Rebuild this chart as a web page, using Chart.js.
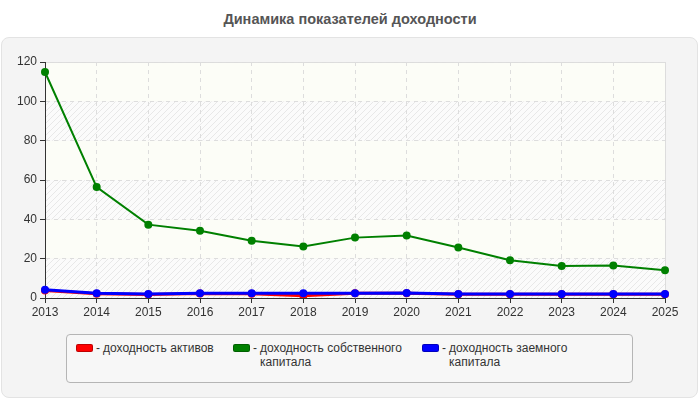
<!DOCTYPE html>
<html lang="ru">
<head>
<meta charset="utf-8">
<title>Динамика показателей доходности</title>
<script src="https://cdn.jsdelivr.net/npm/chart.js@4/dist/chart.umd.min.js"></script>
<style>
  body { margin: 0; width: 700px; height: 400px; background: #fff; position: relative; overflow: hidden;
         font-family: "Liberation Sans", Arial, sans-serif; }
  #title { position: absolute; left: 0; top: 11px; width: 700px; text-align: center;
           font-weight: bold; font-size: 14.5px; color: #555; }
  #panel { position: absolute; left: 1px; top: 37px; width: 695px; height: 359px;
           background: #f4f4f4; border: 1px solid #e3e3e3; border-radius: 8px; }
  #chart-box { position: absolute; left: 0; top: 37px; width: 700px; height: 290px; }
  #legend { position: absolute; left: 66px; top: 334px; width: 565px; height: 47px;
            border: 1px solid #b5b5b5; border-radius: 4px; background: #f7f7f7; }
  .item { position: absolute; top: 6px; display: flex; font-size: 12px; color: #333; line-height: 14px; }
  .swatch { width: 15px; height: 6px; border-radius: 2px; margin-top: 3px; border: 1px solid rgba(0,0,0,0.25); }
  .dash { margin: 0 3px 0 3px; }
</style>
</head>
<body>
<div id="title">Динамика показателей доходности</div>
<div id="panel"></div>
<div id="chart-box"><canvas id="profitChart"></canvas></div>
<div id="legend"></div>
<script>
const years = ["2013", "2014", "2015", "2016", "2017", "2018", "2019", "2020", "2021", "2022", "2023", "2024", "2025"];
const roa = [3.8, 2.1, 1.8, 2.3, 2.2, 1.2, 2.4, 2.4, 1.9, 1.9, 1.9, 1.9, 1.9];
const roe = [114.9, 56.4, 37.3, 34.2, 29.1, 26.2, 30.7, 31.8, 25.7, 19.2, 16.3, 16.5, 14.1];
const rdc = [4.2, 2.4, 2.0, 2.4, 2.4, 2.4, 2.4, 2.5, 2.0, 2.0, 2.0, 2.0, 2.0];
const yTicks = [0, 20, 40, 60, 80, 100, 120];
const seriesNames = [
  ["доходность активов"],
  ["доходность собственного", "капитала"],
  ["доходность заемного", "капитала"],
];
const seriesColors = ["#ff0000", "#008000", "#0000ff"];

document.addEventListener("DOMContentLoaded", function () {
  Chart.defaults.color = "#333";
  Chart.defaults.font.family = "'Liberation Sans', Arial, sans-serif";
  Chart.defaults.font.size = 12;

  // hatch pattern for every other band
  const pc = document.createElement("canvas");
  pc.width = 6;
  pc.height = 6;
  const p = pc.getContext("2d");
  p.fillStyle = "#fbfbfb";
  p.fillRect(0, 0, 6, 6);
  p.strokeStyle = "#e8e8e8";
  p.lineWidth = 1;
  p.beginPath();
  p.moveTo(0, 6); p.lineTo(6, 0);
  p.moveTo(-3, 3); p.lineTo(3, -3);
  p.moveTo(3, 9); p.lineTo(9, 3);
  p.stroke();

  const bands = {
    id: "bands",
    beforeDraw(chart) {
      const { ctx, chartArea: a, scales } = chart;
      const hatch = ctx.createPattern(pc, "repeat");
      ctx.save();
      for (let i = 0; i < yTicks.length - 1; i++) {
        const y0 = scales.y.getPixelForValue(yTicks[i]);
        const y1 = scales.y.getPixelForValue(yTicks[i + 1]);
        ctx.fillStyle = i % 2 === 0 ? hatch : "#fcfdf7";
        ctx.fillRect(a.left, y1, a.right - a.left, y0 - y1);
      }
      ctx.strokeStyle = "#dcdcdc";
      ctx.lineWidth = 1;
      ctx.beginPath();
      ctx.moveTo(a.left, a.top + 0.5);
      ctx.lineTo(a.right + 0.5, a.top + 0.5);
      ctx.lineTo(a.right + 0.5, a.bottom);
      ctx.stroke();
      ctx.restore();
    },
  };

  const data = [roa, roe, rdc];
  new Chart(document.getElementById("profitChart"), {
    type: "line",
    data: {
      labels: years,
      datasets: data.map((d, i) => ({
        label: seriesNames[i].join(" "),
        data: d,
        order: 3 - i,
        borderColor: seriesColors[i],
        backgroundColor: seriesColors[i],
        borderWidth: i === 1 ? 2 : 3,
        pointRadius: 4,
        pointBorderWidth: 0,
        pointHoverRadius: 4,
        tension: 0,
      })),
    },
    options: {
      responsive: true,
      maintainAspectRatio: false,
      animation: false,
      layout: { padding: { top: 25, right: 35, left: 0, bottom: 0 } },
      plugins: { legend: { display: false }, tooltip: { enabled: false } },
      scales: {
        x: {
          offset: false,
          grid: { color: "#dddddd", tickColor: "#333", tickLength: 5 },
          border: { color: "#333", dash: [4, 4] },
          ticks: { padding: 2, maxRotation: 0, autoSkip: false },
          afterFit(s) { s.height = 29; },
        },
        y: {
          min: 0,
          max: 120,
          grid: { color: "#dddddd", tickColor: "#333", tickLength: 5 },
          border: { color: "#333", dash: [4, 4] },
          ticks: { stepSize: 20, padding: 3 },
          afterFit(s) { s.width = 45; },
        },
      },
    },
    plugins: [bands],
  });

  const lg = document.getElementById("legend");
  const lefts = [9, 166, 355];
  seriesNames.forEach((name, i) => {
    const it = document.createElement("div");
    it.className = "item";
    it.style.left = lefts[i] + "px";
    it.innerHTML =
      '<div class="swatch" style="background:' + seriesColors[i] + '"></div>' +
      '<span class="dash">-</span><div>' + name.join("<br>") + "</div>";
    lg.appendChild(it);
  });
});
</script>
</body>
</html>
